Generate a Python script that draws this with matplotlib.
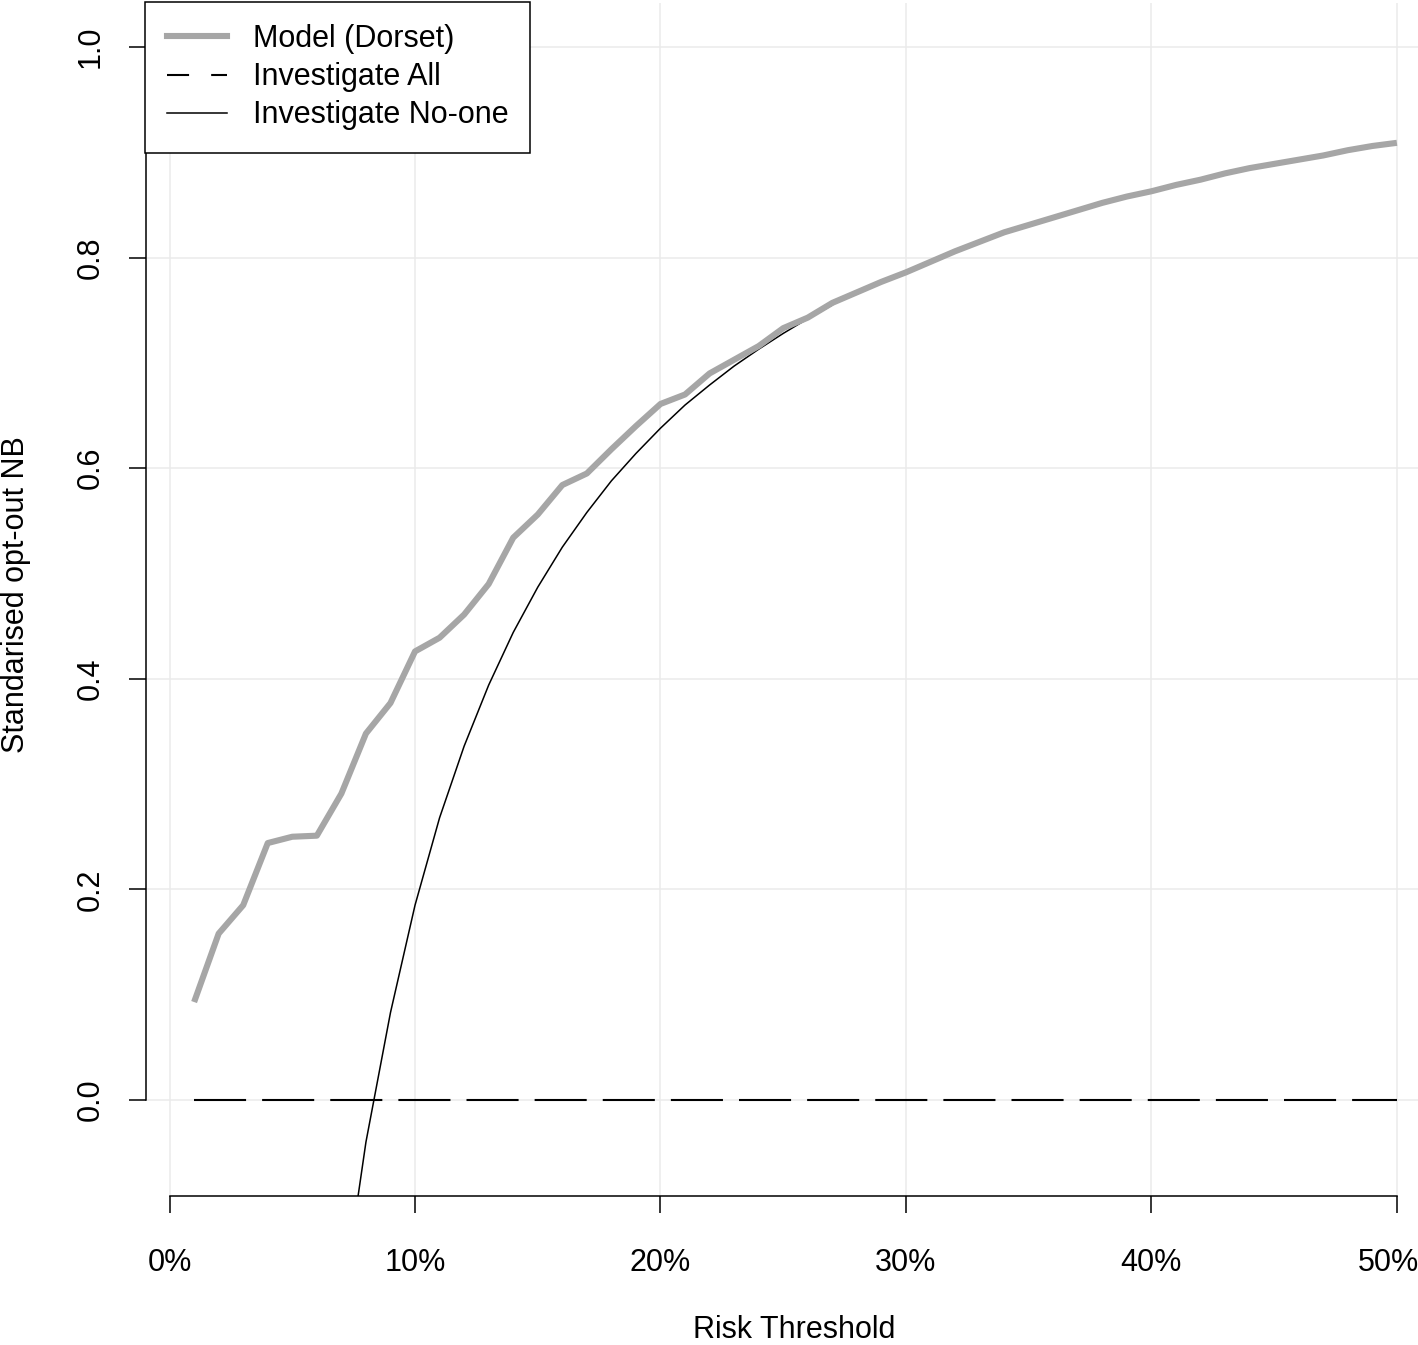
import numpy as np
import matplotlib
matplotlib.use('Agg')
import matplotlib.pyplot as plt
from matplotlib.lines import Line2D
from matplotlib.ticker import FuncFormatter
from matplotlib.transforms import offset_copy

###DATA###
threshold_pct = list(range(1, 51))  # risk threshold, %
model_nb = [0.093, 0.158, 0.185, 0.244, 0.250, 0.251, 0.291, 0.348, 0.377, 0.426,
            0.439, 0.461, 0.490, 0.534, 0.556, 0.584, 0.595, 0.618, 0.640, 0.661,
            0.670, 0.690, 0.703, 0.716, 0.733, 0.743, 0.757, 0.767, 0.777, 0.786,
            0.796, 0.806, 0.815, 0.824, 0.831, 0.838, 0.845, 0.852, 0.858, 0.863,
            0.869, 0.874, 0.880, 0.885, 0.889, 0.893, 0.897, 0.902, 0.906, 0.909]
all_nb = [0.0] * len(threshold_pct)
noone_pct = list(range(7, 28))
noone_nb = [-0.20, -0.04, 0.083, 0.185, 0.268, 0.336, 0.394, 0.444, 0.487, 0.525,
            0.558, 0.588, 0.614, 0.638, 0.660, 0.679, 0.697, 0.713, 0.728, 0.742, 0.755]
x_ticks = [0, 10, 20, 30, 40, 50]
y_ticks = [0.0, 0.2, 0.4, 0.6, 0.8, 1.0]
labels = ['Model (Dorset)', 'Investigate All', 'Investigate No-one']

###SETUP###
W, H = 1418, 1345
plt.rcParams['font.family'] = ['Liberation Sans', 'DejaVu Sans']
fs = 22
grey = '#A6A6A6'

fig = plt.figure(figsize=(W / 100, H / 100), dpi=100)
ax = fig.add_axes([146 / W, (H - 1196) / H, (W - 146) / W, (1196 - 3) / H])

x = np.array(threshold_pct) / 100
ax.plot(np.array(noone_pct) / 100, noone_nb, color='black', lw=1.1, zorder=3)
ax.plot(x, all_nb, color='black', lw=1.5, dashes=(25, 7.7), zorder=3)
ax.plot(x, model_nb, color=grey, lw=4.4, solid_capstyle='butt', zorder=4)

ax.set_xlim(-0.0096, 0.5086)
ax.set_ylim(-0.0912, 1.0418)
ax.set_xticks(np.array(x_ticks) / 100)
ax.set_yticks(y_ticks)
ax.xaxis.set_major_formatter(FuncFormatter(lambda v, p: '%d%%' % round(v * 100)))
ax.yaxis.set_major_formatter(FuncFormatter(lambda v, p: '%.1f' % v))
ax.grid(True, color='#EBEBEB', lw=1.1, zorder=0)
ax.set_axisbelow(True)

for s in ['top', 'right']:
    ax.spines[s].set_visible(False)
ax.spines['left'].set_bounds(0, 1)
ax.spines['bottom'].set_bounds(0, 0.5)
for s in ['left', 'bottom']:
    ax.spines[s].set_linewidth(1.1)

ax.tick_params(axis='both', direction='out', length=12.2, width=1.1, labelsize=fs, colors='black')
ax.tick_params(axis='x', pad=25)
ax.tick_params(axis='y', pad=17, labelrotation=90)
for lbl in ax.get_yticklabels():
    lbl.set_va('center')

# last x label sits a little left so it stays inside the picture, as in the original
fig.canvas.draw()
last = ax.get_xticklabels()[-1]
last.set_transform(offset_copy(last.get_transform(), fig=fig, x=-8, y=0, units='dots'))

fig.text(794 / W, (H - 1338) / H, 'Risk Threshold', fontsize=fs, ha='center', va='baseline')
fig.text(16 / W, 1 - 595 / H, 'Standarised opt-out NB', fontsize=fs, rotation=90,
         ha='center', va='center')

handles = [Line2D([], [], color=grey, lw=4.4),
           Line2D([], [], color='black', lw=1.5, dashes=(10.6, 10.6)),
           Line2D([], [], color='black', lw=1.1)]
leg = ax.legend(handles, labels, loc='upper left', bbox_to_anchor=(145 / W, 1 - 2 / H),
                bbox_transform=fig.transFigure, borderaxespad=0, fontsize=fs,
                fancybox=False, framealpha=1, edgecolor='black', handlelength=1.96,
                handletextpad=0.85, labelspacing=0.27, borderpad=0.72)
leg.get_frame().set_linewidth(1.1)
leg.set_zorder(10)

plt.savefig('out.png', dpi=100)
